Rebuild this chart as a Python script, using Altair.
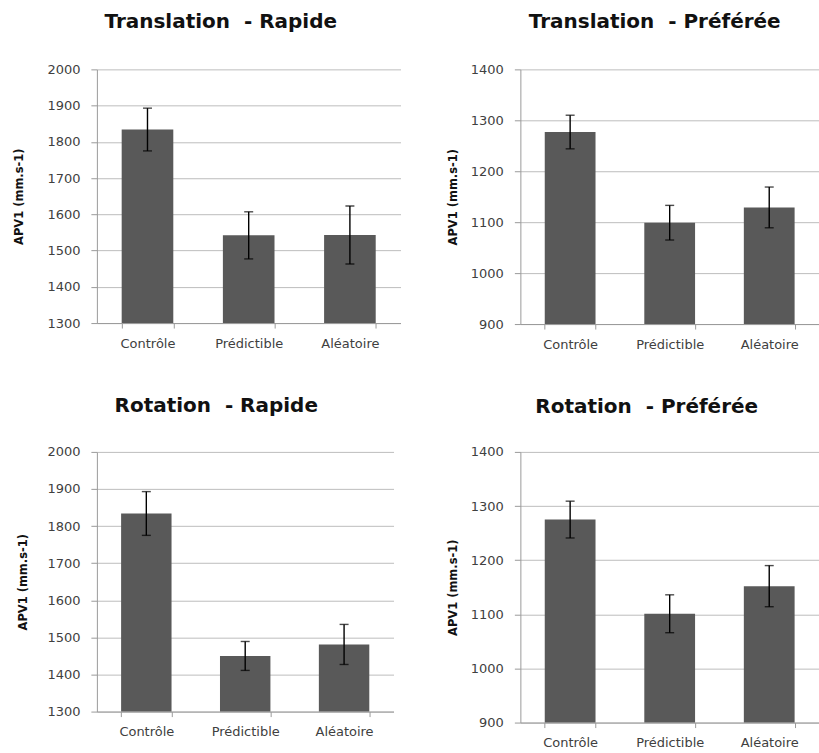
import altair as alt
import pandas as pd

categories = ["Contrôle", "Prédictible", "Aléatoire"]

panel_titles = [
    "Translation\u00a0 - Rapide",
    "Translation\u00a0 - Préférée",
    "Rotation\u00a0 - Rapide",
    "Rotation\u00a0 - Préférée",
]

# APV1 means and error half-widths (mm.s-1) per condition
trans_rapide_mean = [1834, 1542, 1543]
trans_rapide_err = [59, 65, 80]
trans_pref_mean = [1277, 1099, 1129]
trans_pref_err = [33, 34, 40]
rot_rapide_mean = [1834, 1450, 1481]
rot_rapide_err = [59, 39, 54]
rot_pref_mean = [1275, 1101, 1152]
rot_pref_err = [34, 35, 38]

rapide_ticks = [1300, 1400, 1500, 1600, 1700, 1800, 1900, 2000]
pref_ticks = [900, 1000, 1100, 1200, 1300, 1400]

BAR = "#595959"
AXIS = "#9a9a9a"
GRID = "#bdbdbd"
FONT = "DejaVu Sans"


def panel(title, means, errs, ticks, width, height, title_dx, title_offset, ytitle_pad):
    df = pd.DataFrame({
        "cond": categories,
        "mean": means,
        "lo": [m - e for m, e in zip(means, errs)],
        "hi": [m + e for m, e in zip(means, errs)],
        "base": [ticks[0]] * len(categories),
    })
    x = alt.X(
        "cond:N", sort=categories, title=None,
        scale=alt.Scale(paddingInner=0.49, paddingOuter=0.245),
        axis=alt.Axis(
            labelAngle=0, tickBand="extent", grid=False, ticks=True, tickSize=5,
            tickColor=AXIS, domainColor=AXIS, labelFont=FONT, labelFontSize=13,
            labelColor="#404040", labelBaseline="alphabetic", labelPadding=19,
        ),
    )
    yscale = alt.Scale(domain=[ticks[0], ticks[-1]], zero=False, nice=False)
    yaxis = alt.Axis(
        values=ticks, format="d", tickSize=6, tickColor=AXIS, domainColor=AXIS,
        gridColor=GRID, labelFont=FONT, labelFontSize=13, labelColor="#404040",
        labelPadding=11, title="APV1 (mm.s-1)", titleFont=FONT, titleFontSize=11.5,
        titleFontWeight="bold", titleColor="#111111", titlePadding=ytitle_pad,
    )
    base = alt.Chart(df).encode(x=x)
    bars = base.mark_bar(color=BAR).encode(
        y=alt.Y("mean:Q", scale=yscale, axis=yaxis), y2="base:Q"
    )
    whisker = base.mark_rule(color="black", strokeWidth=1.4).encode(
        y=alt.Y("lo:Q", scale=yscale, axis=yaxis), y2="hi:Q"
    )
    cap_lo = base.mark_tick(color="black", size=9, thickness=1.4).encode(
        y=alt.Y("lo:Q", scale=yscale, axis=yaxis)
    )
    cap_hi = base.mark_tick(color="black", size=9, thickness=1.4).encode(
        y=alt.Y("hi:Q", scale=yscale, axis=yaxis)
    )
    return alt.layer(bars, whisker, cap_lo, cap_hi).properties(
        width=width,
        height=height,
        title=alt.TitleParams(
            title, font=FONT, fontSize=20, fontWeight="bold", color="#111111",
            anchor="middle", frame="group", dx=title_dx, offset=title_offset,
            baseline="alphabetic",
        ),
    )


tl = panel(panel_titles[0], trans_rapide_mean, trans_rapide_err, rapide_ticks, 304, 254, -28, 15, 22)
tr = panel(panel_titles[1], trans_pref_mean, trans_pref_err, pref_ticks, 299, 255, -15, 15, 12)
bl = panel(panel_titles[2], rot_rapide_mean, rot_rapide_err, rapide_ticks, 297, 260, -29, 14, 18.5)
br = panel(panel_titles[3], rot_pref_mean, rot_pref_err, pref_ticks, 299, 271, -23, 13, 11.5)

chart = alt.concat(
    tl, tr, bl, br,
    columns=2,
    spacing=alt.RowColnumber(row=128, column=120),
    bounds="flush",
    align="each",
).properties(
    padding={"left": 13, "top": 12, "right": 0, "bottom": 0},
    background="white",
).configure_view(stroke=None)

chart.save("out.html", embed_options={"renderer": "svg", "actions": False})
